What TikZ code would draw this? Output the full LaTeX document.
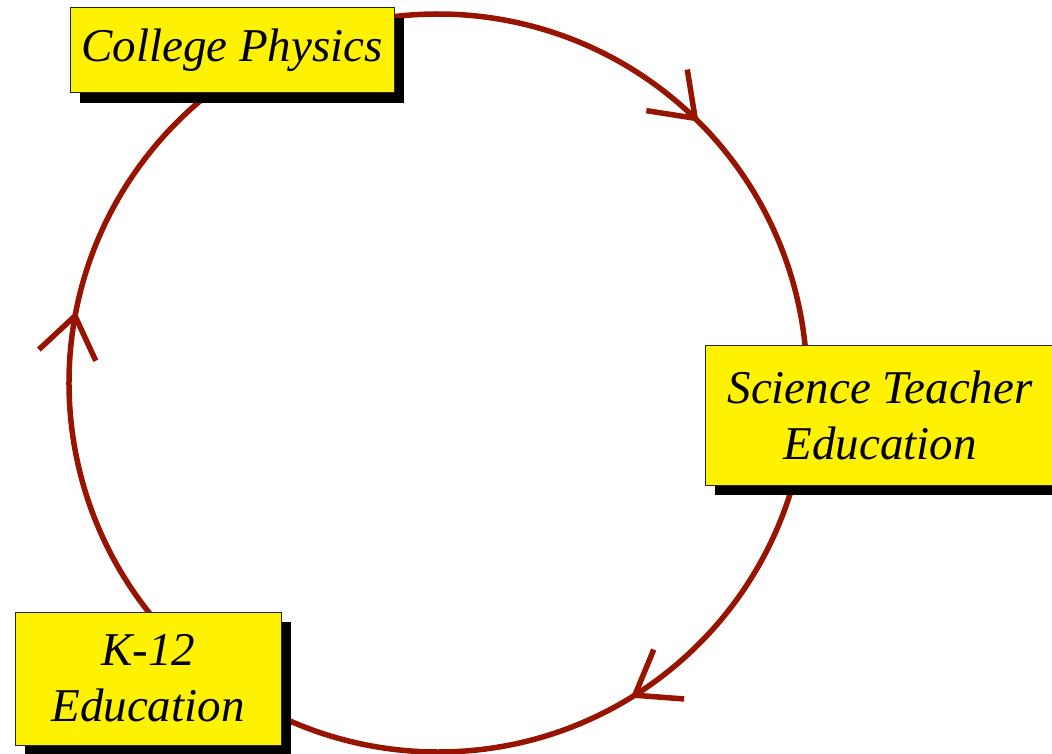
\documentclass[tikz,border=0pt]{standalone}
\usepackage{fontspec}
\setmainfont{Liberation Serif}
\usetikzlibrary{positioning}
\usetikzlibrary{arrows.meta}
\usetikzlibrary{shadows}
\usetikzlibrary{decorations.markings}
\definecolor{cyclered}{RGB}{150,20,0}
\tikzset{
        stagebox/.style={align=center,inner sep=0pt},
        % Yellow boxes with a hard black shadow
        stage_node/.style={stagebox, rectangle, draw=black!85, line width=1pt, fill=yellow,
            font=\fontsize{47}{56}\selectfont\itshape,
            drop shadow={shadow xshift=10pt, shadow yshift=-10pt, fill=black, opacity=1}},
        % Arcs of the ring, open arrow part way along
        ring_arc/.style={draw=cyclered, line width=5.5pt, postaction={decorate},
            decoration={markings, mark=at position #1 with {\arrow[cyclered]{Straight Barb[length=40pt,width=58pt]}}}}
}
\begin{document}
\begin{tikzpicture}[x=1pt, y=1pt]
    \useasboundingbox (0,0) rectangle (1052,-754);
    \coordinate (hub) at (438,-383);
    % points where the ring goes under the boxes
    \path (hub) ++(110:369pt) coordinate (ring_physics);
    \path (hub) ++(0:369pt) coordinate (ring_teacher);
    \path (hub) ++(-130:369pt) coordinate (ring_school);
    \draw[ring_arc=0.59] (ring_physics) arc[start angle=110, end angle=0, radius=369pt];
    \draw[ring_arc=0.45] (ring_teacher) arc[start angle=0, end angle=-130, radius=369pt];
    \draw[ring_arc=0.51] (ring_school) arc[start angle=-130, end angle=-250, radius=369pt];
    % the three stages
    \node[stage_node, minimum width=324pt, minimum height=85pt] (physics) at (232,-50.5) {College Physics};
    \node[stage_node, minimum width=350pt, minimum height=140pt] (teacher) at (880,-415) {Science Teacher\\Education};
    \node[stage_node, minimum width=266pt, minimum height=133pt] (school) at (148,-678.5) {K-12\\Education};
\end{tikzpicture}
\end{document}
